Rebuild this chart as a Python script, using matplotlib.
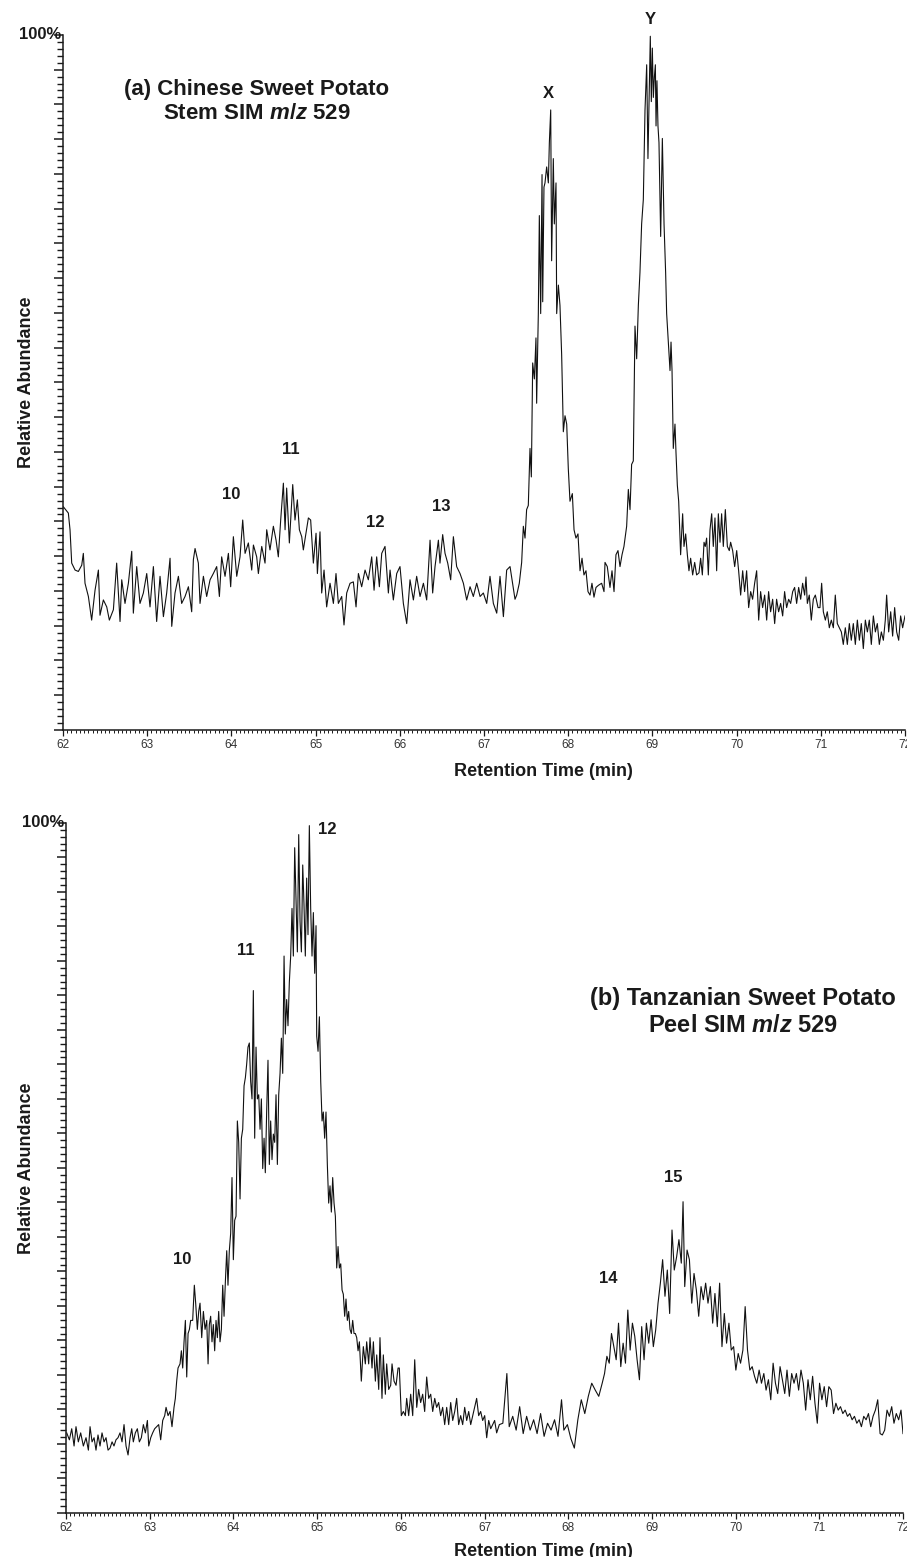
import numpy as np
import matplotlib
matplotlib.use('Agg')
from matplotlib import pyplot as plt
from matplotlib.ticker import MultipleLocator

plt.rcParams['font.family'] = ['Liberation Sans', 'DejaVu Sans']
plt.rcParams['mathtext.fontset'] = 'custom'
plt.rcParams['mathtext.it'] = 'Liberation Sans:italic:bold'
plt.rcParams['mathtext.rm'] = 'Liberation Sans:bold'
plt.rcParams['mathtext.bf'] = 'Liberation Sans:bold'

# (a) Chinese sweet potato stem, SIM m/z 529 - retention time (min) / relative abundance (%)
a_time = [
	62.004, 62.063, 62.083, 62.103, 62.143, 62.182, 62.222, 62.241, 62.261, 62.301, 62.340, 62.380,
	62.420, 62.439, 62.479, 62.519, 62.550, 62.598, 62.637, 62.677, 62.697, 62.736, 62.776, 62.816,
	62.835, 62.875, 62.914, 62.954, 62.994, 63.033, 63.073, 63.112, 63.152, 63.192, 63.231, 63.271,
	63.291, 63.330, 63.370, 63.409, 63.449, 63.489, 63.528, 63.548, 63.568, 63.607, 63.627, 63.667,
	63.706, 63.746, 63.785, 63.825, 63.857, 63.884, 63.924, 63.964, 63.991, 64.023, 64.063, 64.102,
	64.134, 64.162, 64.201, 64.241, 64.261, 64.300, 64.320, 64.360, 64.399, 64.419, 64.458, 64.498,
	64.530, 64.557, 64.585, 64.617, 64.637, 64.656, 64.688, 64.728, 64.755, 64.783, 64.807, 64.835,
	64.854, 64.886, 64.914, 64.941, 64.973, 65.005, 65.021, 65.052, 65.072, 65.100, 65.131, 65.171,
	65.211, 65.242, 65.270, 65.310, 65.337, 65.369, 65.409, 65.448, 65.480, 65.508, 65.547, 65.587,
	65.626, 65.666, 65.694, 65.725, 65.757, 65.785, 65.824, 65.864, 65.884, 65.923, 65.963, 66.002,
	66.042, 66.082, 66.121, 66.161, 66.200, 66.240, 66.280, 66.319, 66.359, 66.390, 66.418, 66.458,
	66.477, 66.509, 66.537, 66.569, 66.604, 66.636, 66.675, 66.715, 66.755, 66.794, 66.834, 66.873,
	66.913, 66.953, 66.992, 67.032, 67.071, 67.111, 67.151, 67.190, 67.230, 67.269, 67.309,
	67.368, 67.388, 67.419, 67.447, 67.467, 67.487, 67.506, 67.526, 67.546, 67.562, 67.578, 67.598,
	67.617, 67.625, 67.645, 67.657, 67.673, 67.689, 67.697, 67.712, 67.724, 67.744, 67.764, 67.776,
	67.792, 67.803, 67.823, 67.835, 67.855, 67.863, 67.883, 67.902, 67.922, 67.942, 67.962, 67.982,
	68.001, 68.021, 68.049, 68.069, 68.092, 68.116, 68.140, 68.164, 68.187, 68.211, 68.235, 68.259,
	68.282, 68.306, 68.330, 68.358, 68.397, 68.425, 68.437, 68.464, 68.496, 68.520, 68.544, 68.567,
	68.591, 68.615, 68.639, 68.662, 68.694, 68.714, 68.734, 68.753, 68.773, 68.793, 68.813, 68.833,
	68.852, 68.872, 68.892, 68.912, 68.932, 68.947, 68.963, 68.975, 68.987, 68.999, 69.011, 69.023,
	69.035, 69.043, 69.054, 69.066, 69.078, 69.098, 69.118, 69.138, 69.157, 69.169, 69.189, 69.209,
	69.221, 69.233, 69.248, 69.268, 69.280, 69.296, 69.312, 69.335, 69.359, 69.375, 69.395, 69.415,
	69.434, 69.454, 69.478, 69.502, 69.525, 69.553, 69.573, 69.593, 69.613, 69.628, 69.644, 69.664,
	69.684, 69.704, 69.723, 69.743, 69.763, 69.783, 69.803, 69.822, 69.842, 69.866, 69.890, 69.913,
	69.929, 69.953, 69.977, 70.001, 70.024, 70.048, 70.072, 70.095, 70.119, 70.143, 70.167, 70.190,
	70.214, 70.238, 70.262, 70.285, 70.309, 70.333, 70.357, 70.380, 70.404, 70.428, 70.452, 70.475,
	70.499, 70.523, 70.547, 70.570, 70.594, 70.618, 70.642, 70.666, 70.689, 70.713, 70.737, 70.761,
	70.784, 70.808, 70.824, 70.840, 70.863, 70.887, 70.911, 70.935, 70.967, 70.990, 71.010, 71.030,
	71.054, 71.077, 71.101, 71.125, 71.149, 71.172, 71.196, 71.220, 71.244, 71.267, 71.291, 71.315,
	71.339, 71.362, 71.386, 71.410, 71.434, 71.458, 71.481, 71.505, 71.529, 71.553, 71.576, 71.600,
	71.624, 71.648, 71.671, 71.695, 71.719, 71.743, 71.766, 71.782, 71.806, 71.830, 71.853, 71.877,
	71.901, 71.925, 71.948, 71.972, 72.000]
a_abund = [
	32.1, 31.2, 28.8, 24.0, 23.0, 22.8, 23.7, 25.4, 21.1, 19.2, 15.8, 20.1,
	23.0, 16.5, 18.7, 17.7, 15.8, 17.3, 24.0, 15.6, 21.6, 18.2, 21.1, 25.7,
	16.8, 23.5, 18.2, 19.7, 22.5, 17.7, 23.5, 15.6, 22.1, 16.3, 19.7, 24.7,
	14.9, 19.7, 22.1, 18.2, 19.2, 20.6, 17.0, 24.5, 26.1, 24.0, 18.2, 22.1,
	19.2, 21.6, 22.5, 23.5, 19.2, 24.9, 22.1, 25.4, 20.6, 27.8, 22.1, 24.9,
	30.2, 25.4, 26.9, 23.0, 26.6, 24.9, 22.5, 26.4, 24.0, 28.8, 25.9, 29.3,
	27.3, 24.9, 30.2, 35.5, 28.8, 34.8, 26.9, 35.3, 30.2, 33.1, 28.8, 27.8,
	25.9, 28.3, 30.5, 30.2, 24.0, 28.3, 22.5, 28.5, 19.7, 23.0, 17.7, 21.1,
	18.2, 22.5, 18.2, 19.2, 15.1, 19.7, 21.1, 21.3, 17.7, 22.5, 20.6, 23.0,
	21.6, 24.9, 20.1, 24.9, 20.6, 25.4, 26.4, 19.7, 23.0, 18.7, 22.5, 23.5,
	18.2, 15.3, 21.6, 18.7, 22.1, 19.2, 21.1, 18.7, 27.3, 19.7, 23.5, 27.3,
	24.0, 28.1, 25.4, 24.0, 21.6, 27.8, 23.5, 22.5, 21.1, 18.7, 20.6, 19.2,
	21.1, 19.2, 19.7, 18.2, 22.1, 18.2, 16.8, 22.1, 16.3, 23.0, 23.5,
	18.8, 19.4, 21.1, 24.1, 29.3, 27.6, 31.7, 32.3, 40.5, 36.4, 52.8, 50.5,
	56.4, 47.0, 59.9, 74.0, 59.9, 79.9, 61.6, 78.1, 78.7, 81.0, 78.7, 84.5,
	89.2, 67.5, 82.2, 72.8, 78.7, 59.9, 64.0, 61.1, 54.0, 42.9, 45.2, 44.0,
	37.6, 32.9, 34.0, 28.8, 27.6, 28.2, 22.9, 24.7, 22.3, 22.9, 19.9, 19.4,
	21.1, 19.1, 20.5, 20.8, 21.1, 19.9, 24.1, 23.5, 20.5, 22.9, 19.9, 25.2,
	25.8, 23.5, 25.2, 26.4, 29.3, 34.6, 31.7, 38.2, 38.7, 58.1, 53.4, 61.1,
	65.8, 72.8, 76.3, 89.2, 95.7, 82.2, 92.2, 99.8, 90.4, 98.1, 91.0, 93.9,
	95.7, 86.9, 93.4, 86.9, 84.5, 71.0, 85.1, 72.8, 65.8, 59.9, 55.8, 51.7,
	55.8, 51.7, 40.5, 44.0, 39.9, 35.2, 32.9, 25.2, 31.1, 26.4, 28.2, 25.2,
	22.9, 24.7, 22.3, 24.1, 22.3, 22.6, 24.7, 22.3, 27.0, 26.4, 27.6, 22.3,
	28.8, 31.1, 26.4, 30.5, 22.9, 31.1, 27.0, 31.1, 26.4, 31.7, 26.4, 25.8,
	27.0, 25.8, 23.5, 25.8, 22.9, 19.4, 22.9, 19.9, 22.9, 17.6, 19.9, 18.8,
	21.1, 22.9, 15.8, 19.9, 17.6, 19.4, 15.8, 19.9, 17.0, 18.8, 15.3, 18.8,
	17.0, 18.2, 16.4, 19.9, 17.6, 18.8, 18.2, 19.9, 20.5, 18.2, 20.5, 18.8,
	21.1, 19.4, 22.0, 18.2, 19.4, 15.8, 18.8, 19.4, 17.6, 17.6, 21.1, 17.0,
	15.8, 17.0, 14.7, 15.8, 14.7, 19.4, 15.3, 14.7, 14.1, 12.3, 14.7, 12.3,
	15.3, 12.9, 15.3, 12.3, 15.8, 12.9, 15.3, 11.7, 15.8, 14.1, 15.8, 12.3,
	16.4, 14.1, 15.3, 12.3, 14.1, 12.9, 15.8, 19.4, 14.1, 17.0, 13.5, 17.6,
	14.1, 12.9, 16.4, 14.7, 16.4]

# (b) Tanzanian sweet potato peel, SIM m/z 529
b_time = [
	62.008, 62.040, 62.068, 62.096, 62.119, 62.147, 62.175, 62.207, 62.239, 62.267, 62.287, 62.311,
	62.335, 62.358, 62.382, 62.406, 62.430, 62.454, 62.478, 62.502, 62.526, 62.550, 62.573, 62.597,
	62.621, 62.645, 62.669, 62.693, 62.717, 62.741, 62.765, 62.785, 62.804, 62.828, 62.852, 62.876,
	62.900, 62.924, 62.948, 62.972, 62.988, 63.012, 63.035, 63.059, 63.083, 63.107, 63.131, 63.155,
	63.179, 63.195, 63.219, 63.243, 63.266, 63.290, 63.306, 63.322, 63.338, 63.362, 63.378, 63.394,
	63.410, 63.426, 63.442, 63.458, 63.474, 63.489, 63.513, 63.533, 63.549, 63.569, 63.585, 63.601,
	63.621, 63.641, 63.661, 63.681, 63.697, 63.712, 63.728, 63.744, 63.760, 63.776, 63.792, 63.808,
	63.824, 63.840, 63.856, 63.872, 63.888, 63.904, 63.920, 63.935, 63.951, 63.967, 63.983, 63.999,
	64.015, 64.031, 64.047, 64.063, 64.079, 64.095, 64.111, 64.127, 64.143, 64.158, 64.174, 64.190,
	64.206, 64.222, 64.238, 64.254, 64.270, 64.286, 64.302, 64.318, 64.334, 64.350, 64.366, 64.381,
	64.397, 64.413, 64.429, 64.445, 64.461, 64.477, 64.493, 64.509, 64.525, 64.541, 64.557, 64.573,
	64.589, 64.605, 64.620, 64.636, 64.652, 64.668, 64.684, 64.700, 64.716, 64.732, 64.748, 64.764,
	64.780, 64.796, 64.812, 64.828, 64.843, 64.859, 64.875, 64.891, 64.907, 64.923, 64.939, 64.955,
	64.971, 64.987, 64.995, 65.011, 65.027, 65.043, 65.059, 65.074, 65.090, 65.106, 65.122, 65.138,
	65.154, 65.170, 65.186, 65.202, 65.218, 65.234, 65.250, 65.266, 65.282, 65.298, 65.313, 65.329,
	65.345, 65.361, 65.377, 65.393, 65.409, 65.425, 65.441, 65.457, 65.473, 65.489, 65.505, 65.528,
	65.552, 65.576, 65.592, 65.616, 65.632, 65.656, 65.672, 65.696, 65.712, 65.736, 65.751, 65.775,
	65.791, 65.815, 65.831, 65.855, 65.879, 65.895, 65.919, 65.943, 65.967, 65.982, 66.006, 66.030,
	66.054, 66.070, 66.094, 66.118, 66.142, 66.166, 66.190, 66.213, 66.237, 66.261, 66.285, 66.309,
	66.333, 66.357, 66.381, 66.405, 66.428, 66.452, 66.476, 66.500, 66.524, 66.548, 66.572, 66.596,
	66.620, 66.644, 66.667, 66.691, 66.715, 66.739, 66.763, 66.787, 66.811, 66.835, 66.859, 66.882,
	66.906, 66.930, 66.954, 66.978, 67.002, 67.026, 67.050, 67.074, 67.098, 67.121, 67.145, 67.177,
	67.219, 67.267, 67.295, 67.337, 67.378, 67.420, 67.462, 67.503, 67.545, 67.587, 67.628, 67.670,
	67.712, 67.753, 67.795, 67.837, 67.878, 67.920, 67.948, 67.990, 68.031, 68.073, 68.115, 68.156,
	68.198, 68.240, 68.281, 68.323, 68.365, 68.406, 68.434, 68.462, 68.490, 68.517, 68.545, 68.573,
	68.601, 68.628, 68.656, 68.684, 68.712, 68.740, 68.767, 68.795, 68.823, 68.851, 68.878, 68.906,
	68.934, 68.962, 68.990, 69.017, 69.045, 69.073, 69.101, 69.128, 69.156, 69.184, 69.212, 69.240,
	69.267, 69.295, 69.323, 69.351, 69.372, 69.392, 69.420, 69.448, 69.476, 69.503, 69.531, 69.559,
	69.587, 69.614, 69.642, 69.670, 69.698, 69.726, 69.753, 69.781, 69.809, 69.837, 69.865, 69.892,
	69.920, 69.948, 69.976, 70.003, 70.031, 70.059, 70.087, 70.114, 70.142, 70.170, 70.198, 70.226,
	70.253, 70.281, 70.309, 70.337, 70.364, 70.392, 70.420, 70.448, 70.476, 70.503, 70.531, 70.559,
	70.587, 70.614, 70.642, 70.670, 70.698, 70.726, 70.753, 70.781, 70.809, 70.837, 70.865, 70.892,
	70.920, 70.948, 70.976, 71.003, 71.031, 71.059, 71.087, 71.114, 71.142, 71.170, 71.198, 71.226,
	71.253, 71.281, 71.309, 71.337, 71.364, 71.392, 71.420, 71.448, 71.476, 71.503, 71.531, 71.559,
	71.587, 71.614, 71.642, 71.670, 71.698, 71.726, 71.753, 71.781, 71.809, 71.837, 71.865, 71.892,
	71.920, 71.948, 71.976, 72.000]
b_abund = [
	11.6, 10.6, 12.2, 9.7, 12.5, 10.3, 11.6, 9.7, 10.9, 9.1, 12.5, 10.3,
	10.9, 9.1, 11.3, 9.7, 11.6, 10.3, 10.9, 9.1, 9.4, 10.3, 9.7, 10.6,
	10.9, 11.6, 10.3, 12.8, 9.7, 8.4, 10.9, 12.2, 10.3, 11.6, 12.2, 10.3,
	10.9, 12.8, 11.6, 13.4, 9.7, 10.9, 11.6, 12.2, 12.5, 12.8, 10.6, 13.4,
	14.1, 15.3, 14.1, 14.7, 12.5, 15.3, 16.6, 19.1, 21.0, 21.6, 23.5, 21.0,
	24.8, 27.9, 19.7, 26.0, 26.6, 27.9, 27.9, 33.0, 30.4, 26.6, 29.2, 30.4,
	25.4, 29.2, 26.6, 27.9, 21.6, 27.3, 28.5, 24.8, 27.3, 23.5, 27.9, 25.4,
	29.2, 24.8, 26.6, 33.0, 28.5, 33.6, 38.0, 33.0, 38.0, 40.5, 48.6, 36.7,
	42.4, 43.0, 56.8, 53.7, 45.5, 54.3, 55.6, 61.9, 63.1, 65.0, 67.5, 68.1,
	62.5, 60.0, 75.7, 54.3, 67.5, 60.0, 60.6, 55.6, 60.0, 49.9, 54.3, 49.3,
	58.1, 65.6, 50.5, 56.8, 51.2, 54.9, 53.7, 60.6, 50.5, 60.6, 63.7, 68.8,
	63.7, 80.7, 69.4, 74.4, 70.6, 76.9, 80.7, 87.6, 80.7, 96.4, 88.9, 81.3,
	98.3, 85.7, 81.3, 93.9, 88.2, 80.7, 92.0, 83.8, 99.6, 87.6, 80.7, 87.0,
	78.2, 85.1, 69.1, 66.9, 71.9, 62.5, 56.8, 58.1, 54.3, 58.1, 50.5, 44.9,
	47.4, 43.6, 48.6, 44.9, 43.0, 35.5, 38.6, 35.5, 36.1, 32.3, 31.7, 28.5,
	31.0, 27.9, 29.2, 26.6, 26.0, 27.9, 26.0, 26.0, 25.4, 23.5, 24.8, 19.1,
	24.1, 21.6, 24.8, 21.6, 25.4, 21.0, 24.8, 19.1, 22.9, 17.9, 25.4, 16.6,
	22.9, 17.2, 21.6, 17.9, 18.5, 21.6, 19.1, 18.5, 21.0, 21.0, 14.1, 14.7,
	14.1, 16.6, 14.1, 17.2, 14.1, 22.2, 15.3, 17.9, 16.0, 17.2, 14.7, 19.7,
	16.6, 17.2, 14.7, 16.6, 15.3, 16.0, 14.1, 15.3, 12.8, 15.3, 12.8, 16.0,
	13.4, 14.7, 16.6, 12.8, 14.1, 12.8, 15.3, 13.4, 14.7, 12.8, 14.1, 15.3,
	16.6, 14.1, 14.7, 13.4, 14.1, 10.9, 13.4, 12.2, 12.8, 13.4, 11.6, 12.8,
	13.0, 20.2, 12.5, 14.0, 12.0, 15.4, 11.5, 14.0, 12.0, 13.5, 11.5, 14.4,
	11.1, 13.0, 12.0, 13.5, 11.1, 16.4, 12.0, 12.8, 10.8, 9.4, 13.5, 16.4,
	14.4, 16.9, 18.8, 17.8, 16.9, 18.8, 20.2, 22.7, 21.7, 26.0, 24.1, 22.2,
	27.5, 21.2, 24.6, 21.7, 29.4, 23.6, 27.5, 25.6, 22.2, 19.3, 27.0, 22.2,
	27.5, 24.6, 28.0, 24.1, 26.5, 30.4, 33.3, 36.7, 31.4, 35.2, 28.9, 41.0,
	35.2, 37.1, 39.6, 36.2, 45.1, 32.8, 38.1, 36.7, 30.4, 34.7, 32.3, 28.5,
	32.8, 30.9, 33.3, 30.4, 32.8, 27.5, 31.8, 27.0, 33.3, 24.1, 28.9, 24.6,
	27.5, 23.6, 24.1, 20.7, 23.1, 21.7, 23.6, 29.9, 23.6, 20.7, 21.2, 19.8,
	18.8, 20.7, 18.8, 20.2, 17.8, 19.3, 16.4, 21.7, 18.8, 17.3, 21.2, 19.3,
	17.3, 20.7, 16.9, 20.2, 18.8, 20.2, 17.8, 20.7, 18.8, 14.9, 19.3, 16.4,
	19.8, 15.9, 13.0, 18.8, 16.4, 18.3, 15.4, 18.3, 17.8, 14.4, 15.9, 14.9,
	15.4, 14.4, 14.9, 14.0, 14.4, 13.5, 14.0, 13.0, 13.5, 12.5, 14.0, 13.5,
	14.4, 12.5, 14.0, 14.9, 16.4, 11.5, 11.3, 12.0, 14.9, 14.0, 15.4, 13.0,
	14.4, 13.5, 14.9, 11.5]

a_peaks = ['10', '11', '12', '13', 'X', 'Y']
a_peak_time = [64.0, 64.71, 65.71, 66.49, 67.77, 68.98]
a_peak_abund = [33.8, 40.3, 29.8, 32.2, 91.5, 102.2]
b_peaks = ['10', '11', '12', '14', '15']
b_peak_time = [63.39, 64.15, 65.12, 68.48, 69.26]
b_peak_abund = [36.7, 81.5, 99.0, 34.0, 48.6]

a_title = '(a) Chinese Sweet Potato\nStem SIM $\\mathit{m/z}$ 529'
b_title = '(b) Tanzanian Sweet Potato\nPeel SIM $\\mathit{m/z}$ 529'


def draw_panel(ax, t, v, peaks, pk_t, pk_v, title, title_xy, title_size, ylab_x, xlab_y):
	ax.plot(t, v, color='#111111', lw=0.8)
	ax.set_xlim(62, 72)
	ax.set_ylim(0, 100)
	for s in ['top', 'right']:
		ax.spines[s].set_visible(False)
	for s in ['left', 'bottom']:
		ax.spines[s].set_linewidth(1.1)
		ax.spines[s].set_color('#1a1a1a')
	ax.xaxis.set_major_locator(MultipleLocator(1))
	ax.xaxis.set_minor_locator(MultipleLocator(0.05))
	ax.yaxis.set_major_locator(MultipleLocator(5))
	ax.yaxis.set_minor_locator(MultipleLocator(1))
	ax.tick_params(axis='y', which='major', direction='out', length=6.5, width=1.1, labelleft=False, color='#1a1a1a')
	ax.tick_params(axis='y', which='minor', direction='out', length=4.3, width=1.0, color='#1a1a1a')
	ax.tick_params(axis='x', which='major', direction='out', length=4.2, width=0.9, pad=2, labelsize=8.5, labelcolor='#333333', color='#1a1a1a')
	ax.tick_params(axis='x', which='minor', direction='out', length=2.2, width=0.7, color='#1a1a1a')
	ax.set_xlabel('Retention Time (min)', fontweight='bold', fontsize=13, color='#1a1a1a')
	ax.xaxis.set_label_coords(0.57, xlab_y)
	ax.set_ylabel('Relative Abundance', fontweight='bold', fontsize=13, color='#1a1a1a')
	ax.yaxis.set_label_coords(ylab_x, 0.5)
	ax.text(-0.002, 1.0, '100%', transform=ax.transAxes, ha='right', va='center', fontweight='bold', fontsize=12, color='#1a1a1a')
	for lab, x, y in zip(peaks, pk_t, pk_v):
		ax.text(x, y, lab, ha='center', va='center', fontweight='bold', fontsize=12, color='#1a1a1a', clip_on=False)
	ax.text(title_xy[0], title_xy[1], title, ha='center', va='center', multialignment='center', fontweight='bold', fontsize=title_size, color='#1a1a1a', linespacing=1.2)


fig = plt.figure(figsize=(9.07, 15.57), dpi=100)
ax_a = fig.add_axes([0.0695, 0.5312, 0.9283, 0.4464])
ax_b = fig.add_axes([0.0728, 0.0283, 0.9228, 0.4432])

draw_panel(ax_a, a_time, a_abund, a_peaks, a_peak_time, a_peak_abund, a_title, (64.3, 90.4), 16, -0.033, -0.047)
draw_panel(ax_b, b_time, b_abund, b_peaks, b_peak_time, b_peak_abund, b_title, (70.09, 72.6), 17, -0.037, -0.043)

plt.savefig('out.png', dpi=100)
